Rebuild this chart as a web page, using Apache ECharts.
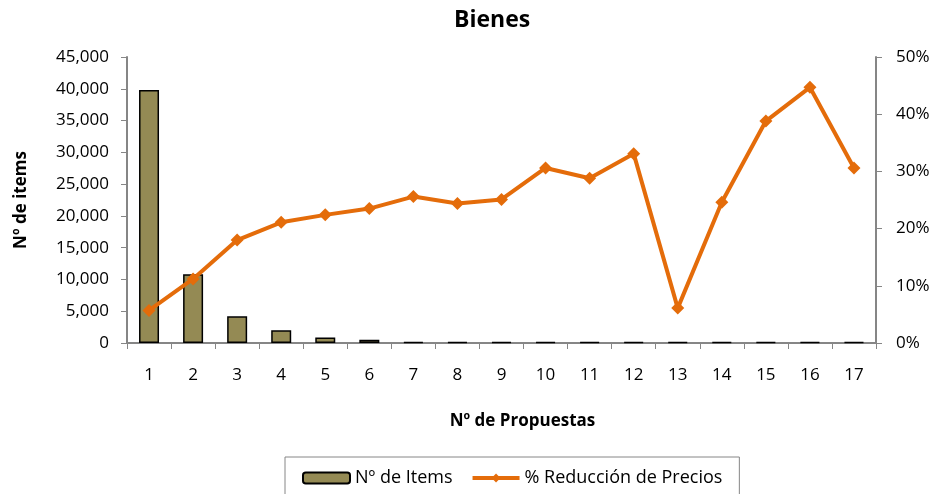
<!DOCTYPE html>
<html>
<head>
<meta charset="utf-8">
<script src="https://cdn.jsdelivr.net/npm/echarts@6/dist/echarts.min.js"></script>
<style>
  html, body { margin: 0; padding: 0; background: #fff; }
  #chart { width: 938px; height: 494px; }
</style>
</head>
<body>
<div id="chart"></div>
<script>
// data
const propuestas = ['1', '2', '3', '4', '5', '6', '7', '8', '9', '10', '11', '12', '13', '14', '15', '16', '17'];
const numItems = [39800, 10800, 4200, 2000, 850, 500, 150, 150, 150, 150, 150, 150, 150, 150, 150, 150, 150];
const reduccion = [5.7, 11.2, 18.0, 21.1, 22.4, 23.5, 25.6, 24.4, 25.1, 30.6, 28.8, 33.1, 6.1, 24.6, 38.8, 44.7, 30.6];

const FONT = 'Open Sans';
const AXIS_COLOR = '#868686';
const TEXT = '#000';

const myChart = echarts.init(document.getElementById('chart'));

myChart.setOption({
  backgroundColor: '#fff',
  animation: false,
  textStyle: { fontFamily: FONT },
  title: {
    text: 'Bienes',
    left: 449,
    top: 4,
    padding: 5,
    textStyle: { fontFamily: FONT, fontSize: 23, fontWeight: 'bold', color: TEXT }
  },
  legend: {
    top: 457,
    left: 285,
    padding: [12, 17, 20, 17],
    borderColor: AXIS_COLOR,
    borderWidth: 1,
    itemGap: 18,
    itemWidth: 47,
    itemHeight: 11,
    textStyle: { fontFamily: FONT, fontSize: 18, color: TEXT },
    data: [
      { name: 'Nº de Items' },
      { name: '% Reducción de Precios', lineStyle: { width: 4 } }
    ]
  },
  grid: {
    left: 127,
    right: 62,
    top: 57,
    bottom: 151
  },
  xAxis: {
    type: 'category',
    data: propuestas,
    name: 'Nº de Propuestas',
    nameLocation: 'middle',
    nameGap: 70,
    nameTextStyle: { fontFamily: FONT, fontSize: 17, fontWeight: 'bold', color: TEXT, padding: [0, 0, 0, 42] },
    axisLine: { lineStyle: { color: AXIS_COLOR, width: 2 } },
    axisTick: { show: true, length: 6, lineStyle: { color: AXIS_COLOR } },
    axisLabel: { fontFamily: FONT, fontSize: 17, color: TEXT, margin: 24 }
  },
  yAxis: [
    {
      type: 'value',
      min: 0,
      max: 45000,
      interval: 5000,
      name: 'Nº de items',
      nameLocation: 'middle',
      nameGap: 97,
      nameTextStyle: { fontFamily: FONT, fontSize: 17, fontWeight: 'bold', color: TEXT },
      axisLine: { show: true, lineStyle: { color: AXIS_COLOR, width: 2 } },
      axisTick: { show: true, length: 6, lineStyle: { color: AXIS_COLOR } },
      splitLine: { show: false },
      axisLabel: {
        fontFamily: FONT, fontSize: 17, color: TEXT, margin: 18,
        formatter: v => v.toLocaleString('en-US')
      }
    },
    {
      type: 'value',
      min: 0,
      max: 50,
      interval: 10,
      position: 'right',
      axisLine: { show: true, lineStyle: { color: AXIS_COLOR, width: 2 } },
      axisTick: { show: true, length: 6, lineStyle: { color: AXIS_COLOR } },
      splitLine: { show: false },
      axisLabel: { fontFamily: FONT, fontSize: 17, color: TEXT, margin: 20, formatter: '{value}%' }
    }
  ],
  series: [
    {
      name: 'Nº de Items',
      type: 'bar',
      yAxisIndex: 0,
      barWidth: 20,
      itemStyle: { color: '#948A54', borderColor: '#000', borderWidth: 1.5 },
      data: numItems
    },
    {
      name: '% Reducción de Precios',
      type: 'line',
      yAxisIndex: 1,
      symbol: 'diamond',
      symbolSize: 13,
      lineStyle: { color: '#E46C0A', width: 4 },
      itemStyle: { color: '#E46C0A' },
      data: reduccion
    }
  ]
});
</script>
</body>
</html>
